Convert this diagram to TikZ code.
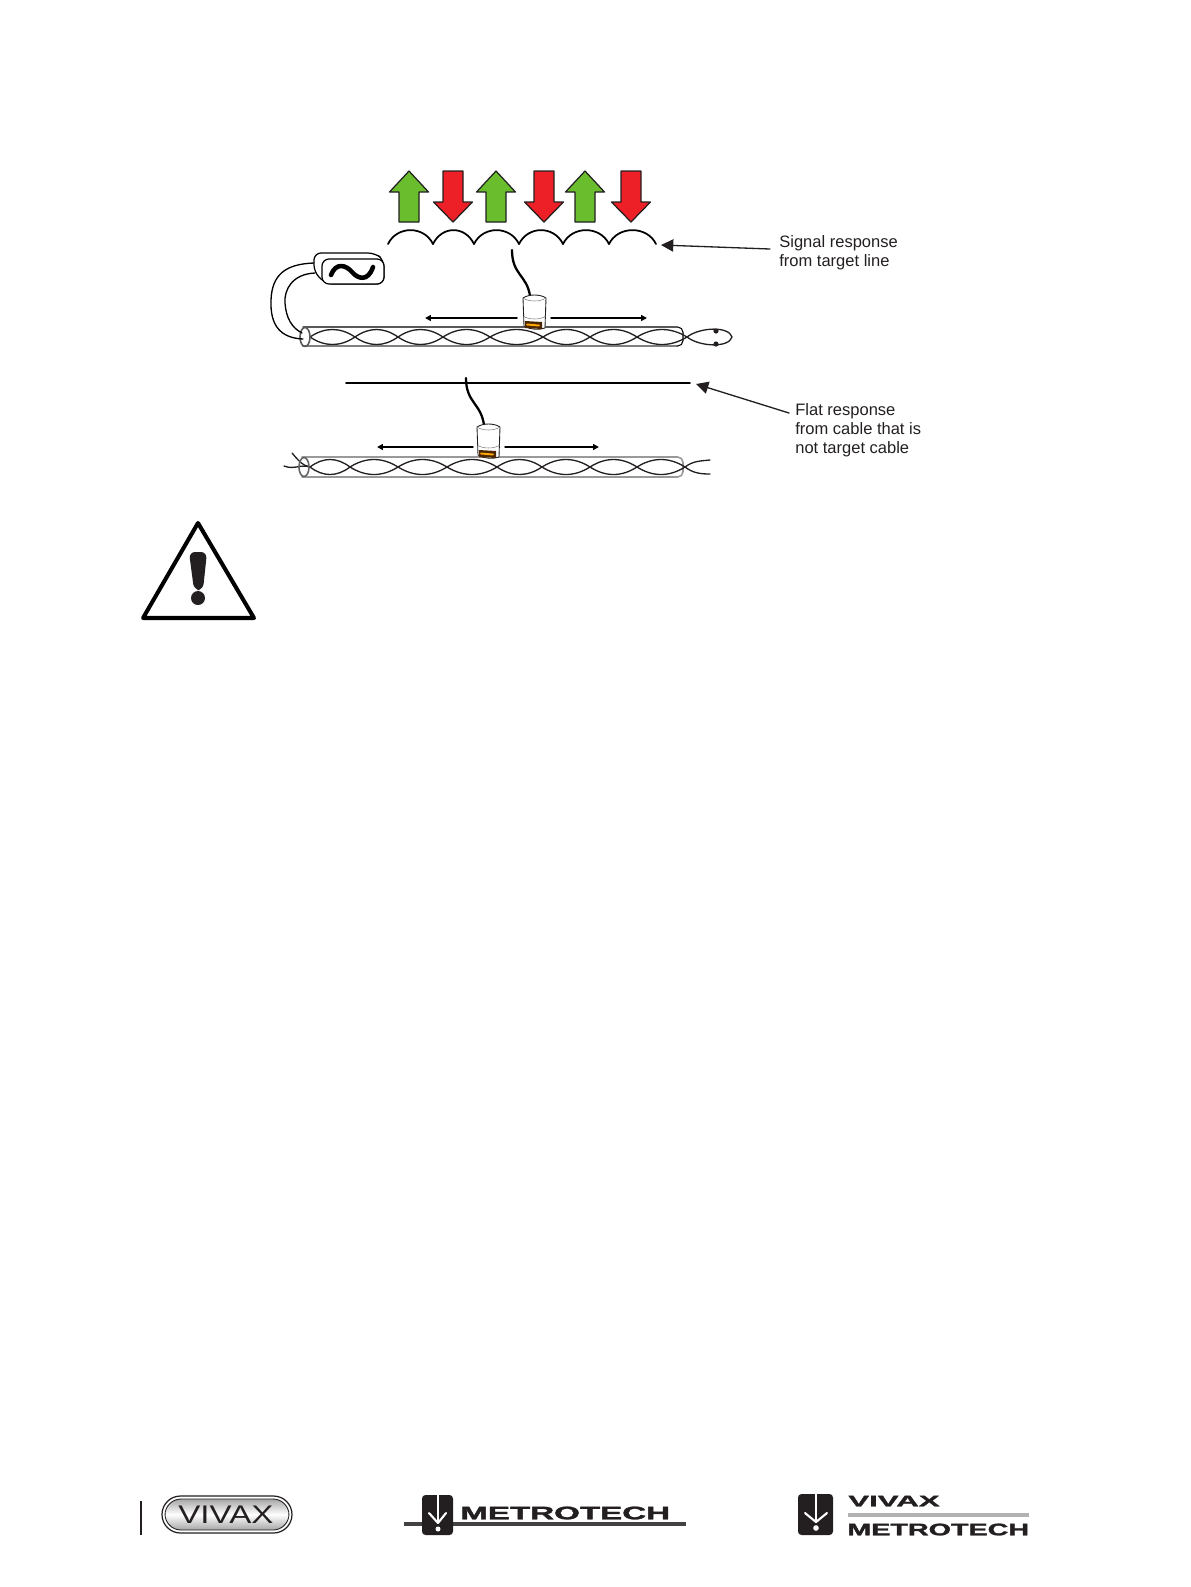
\documentclass[tikz,border=0pt]{standalone}
\usepackage{fontspec}
\setmainfont{Liberation Sans}
\usepackage{pgf,tikz}
\usetikzlibrary{arrows}
\usetikzlibrary{arrows.meta}
\definecolor{upgreen}{RGB}{106,189,45}
\definecolor{downred}{RGB}{237,32,39}
\definecolor{edgedark}{RGB}{35,31,32}
\definecolor{logodark}{RGB}{35,31,32}
\tikzset{
  upblock/.style={draw=edgedark,line width=0.7pt,fill=upgreen},
  downblock/.style={draw=edgedark,line width=0.7pt,fill=downred},
  callout/.style={inner sep=0pt,anchor=north west,align=left,font=\fontsize{9.4}{10.8}\selectfont,text=edgedark},
  calloutline/.style={line width=0.75pt,draw=edgedark,-{Triangle[length=7pt,width=7pt]}},
  pairline/.style={line width=0.75pt,edgedark},
  sweepline/.style={line width=0.85pt,-{Triangle[length=3.4pt,width=3.4pt]}},
  logotext/.style={inner sep=0pt,anchor=west,text=logodark}
}
\begin{document}
\begin{tikzpicture}[line cap=round,line join=round,>=triangle 45,x=0.02cm,y=-0.02cm]
      \useasboundingbox (0,0) rectangle (1191,1587);
      % response blocks
      \foreach \c in {409,496,585}
        \draw [upblock] (\c,171)-- (\c+19.5,192)-- (\c+10,192)-- (\c+10,222)-- (\c-10,222)-- (\c-10,192)-- (\c-19.5,192)-- cycle;
      \foreach \c in {453,544,631}
        \draw [downblock] (\c,222)-- (\c+19.5,202)-- (\c+10,202)-- (\c+10,171)-- (\c-10,171)-- (\c-10,202)-- (\c-19.5,202)-- cycle;
      % scalloped trace
      \foreach \a/\b in {388/433,433/474,474/519,519/563,563/609,609/656}
        \draw [line width=1pt] (\a,244) .. controls (\a+9,225.5) and (\b-9,225.5) .. (\b,244);
      % flat trace
      \draw [line width=1.1pt] (346,383)-- (690,383);
      % callouts
      \node (signaltext) [callout] at (779,235) {Signal response\\from target line};
      \node (flattext) [callout] at (795,403) {Flat response\\from cable that is\\not target cable};
      \coordinate (signaltip) at (661,245);
      \coordinate (signalend) at (770,249);
      \coordinate (flattip) at (696,384);
      \coordinate (flatend) at (789,413);
      \draw [calloutline] (signalend)-- (signaltip);
      \draw [calloutline] (flatend)-- (flattip);
      % upper cable
      \draw [line width=0.6pt,rounded corners=3pt] (303,327)-- (683,327)-- (683,346)-- (303,346);
      \draw [line width=0.7pt,gray] (303,346)-- (676,346);
      \foreach \a/\b in {310/355,355/398,398/443,443/490,490/543,543/590,590/637,637/687}
        \draw [pairline] (\a,337) .. controls (\a*0.67+\b*0.33,327) and (\a*0.33+\b*0.67,327) .. (\b,337)
          .. controls (\a*0.33+\b*0.67,347) and (\a*0.67+\b*0.33,347) .. (\a,337);
      \draw [pairline] (687,337) .. controls (700,327) and (729,326) .. (732,337) .. controls (729,348) and (700,347) .. (687,337);
      \fill [edgedark] (716,331) circle (2.6);
      \fill [edgedark] (716,344) circle (2.6);
      \draw [line width=0.9pt,draw=edgedark!75] (305,337) ellipse (5 and 9.5);
      % lower cable
      \draw [line width=0.9pt,gray!80,rounded corners=3pt] (302,457)-- (683,457)-- (683,477)-- (302,477);
      \foreach \a/\b in {310/350,350/398,398/447,447/497,497/542,542/590,590/637,637/685}
        \draw [pairline] (\a,467) .. controls (\a*0.67+\b*0.33,457) and (\a*0.33+\b*0.67,457) .. (\b,467)
          .. controls (\a*0.33+\b*0.67,477) and (\a*0.67+\b*0.33,477) .. (\a,467);
      \draw [pairline] (685,467) .. controls (693,461) and (700,461) .. (710,460);
      \draw [pairline] (685,467) .. controls (693,473) and (700,474) .. (710,474);
      \draw [pairline] (292,453) .. controls (298,460) and (303,466) .. (310,467);
      \draw [pairline] (284,466) .. controls (294,470) and (300,464) .. (310,467);
      \draw [line width=0.9pt,draw=edgedark!70] (304,467) ellipse (5 and 9.5);
      % direction arrows
      \draw [sweepline] (517,318)-- (425,318);
      \draw [sweepline] (551,318)-- (647,318);
      \draw [sweepline] (473,447)-- (377,447);
      \draw [sweepline] (505,447)-- (599,447);
      % leads
      \draw [line width=1.3pt] (512,250) .. controls (512,275) and (527,275) .. (530,296);
      \draw [line width=1.3pt] (466,378) .. controls (466,403) and (481,403) .. (484,425);
      % sensors
      \foreach \sx/\sy in {523/297,477/426} {
        \draw [line width=0.5pt,fill=white,draw=edgedark] (\sx,\sy+1) -- (\sx+1,\sy+29) .. controls (\sx+8,\sy+33) and (\sx+16,\sy+33) .. (\sx+22,\sy+31) -- (\sx+23,\sy+1) .. controls (\sx+17,\sy-3) and (\sx+6,\sy-3) .. (\sx,\sy+1) -- cycle;
        \draw [line width=0.3pt,gray] (\sx,\sy+1) .. controls (\sx+6,\sy+5) and (\sx+17,\sy+5) .. (\sx+23,\sy+1);
        \draw [line width=0.3pt,gray] (\sx,\sy+19) .. controls (\sx+6,\sy+23) and (\sx+17,\sy+23) .. (\sx+23,\sy+19);
        \fill [black!70!orange] (\sx+2,\sy+24) -- (\sx+19,\sy+25) -- (\sx+19,\sy+32) -- (\sx+2,\sy+31) -- cycle;
        \draw [line width=1.1pt,orange!70!yellow] (\sx+4,\sy+27.5) -- (\sx+16,\sy+28.5);
      }
      % transmitter
      \draw [line width=0.75pt] (314,263) .. controls (285,264) and (272,275) .. (271,300) .. controls (270,325) and (280,338) .. (303,339);
      \draw [line width=0.75pt] (315,273) .. controls (292,274) and (284,290) .. (285,303) .. controls (286,318) and (292,328) .. (302,333);
      \draw [line width=0.7pt,fill=white,rounded corners=4pt] (326,284)-- (314,272)-- (314,253)-- (375,253)-- (384,260)-- (384,284)-- cycle;
      \draw [line width=0.7pt,fill=white,rounded corners=4pt] (322,259) rectangle (384,284);
      \draw [line width=2.6pt] (331,275) .. controls (336,262) and (346,265) .. (352,272) .. controls (358,279) and (368,282) .. (373,267);
      % warning sign
      \draw [line width=2.3pt,fill=white] (198,523)-- (254,618)-- (143,618)-- cycle;
      \fill [edgedark,rounded corners=3.5pt] (189,552)-- (207,552)-- (203,590)-- (194,590)-- cycle;
      \fill [edgedark] (198,598) circle (7);
      % footer
      \draw [line width=0.9pt,line cap=butt,logodark] (141,1501)-- (141,1535);
      \draw [line width=0.7pt,draw=logodark,rounded corners=0.37cm] (162,1496) rectangle (292,1533);
      \draw [line width=0.5pt,draw=logodark,top color=gray!70,bottom color=gray!70,middle color=white,rounded corners=0.32cm] (165,1499) rectangle (289,1530);
      \node (vivaxname) [logotext,font=\fontsize{14.5}{16}\selectfont] at (178,1515) {\scalebox{1.3}[1]{VIVAX}};
      % centre logo
      \draw [line width=2pt,line cap=butt,logodark!85] (404,1524)-- (686,1524);
      \fill [logodark,rounded corners=2pt] (422,1495) rectangle (453,1535);
      \draw [line width=1.1pt,white,line cap=butt] (438,1495)-- (438,1523);
      \draw [line width=1.2pt,white] (429,1513)-- (438,1523)-- (446,1513);
      \fill [white] (438,1529) circle (2.5);
      \node (metrotechname) [logotext,font=\fontsize{10.3}{12}\selectfont\bfseries\addfontfeatures{FakeBold=1.5}] at (460,1513) {\scalebox{1.83}[1]{METROTECH}};
      % right logo
      \fill [logodark,rounded corners=2pt] (798,1494) rectangle (833,1535);
      \draw [line width=1.1pt,white,line cap=butt] (816,1494)-- (816,1522);
      \draw [line width=1.2pt,white] (805,1513)-- (816,1522)-- (827,1513);
      \fill [white] (816,1528) circle (2.8);
      \node (vivaxsmall) [logotext,font=\fontsize{8.7}{10}\selectfont\bfseries\addfontfeatures{FakeBold=1.5}] at (848,1501) {\scalebox{2.04}[1]{VIVAX}};
      \draw [line width=2.2pt,line cap=butt,gray!60] (848,1515)-- (1029,1515);
      \node (metrotechsmall) [logotext,font=\fontsize{9.5}{11}\selectfont\bfseries\addfontfeatures{FakeBold=1.5}] at (847,1529.5) {\scalebox{1.72}[1]{METROTECH}};
\end{tikzpicture}
\end{document}
